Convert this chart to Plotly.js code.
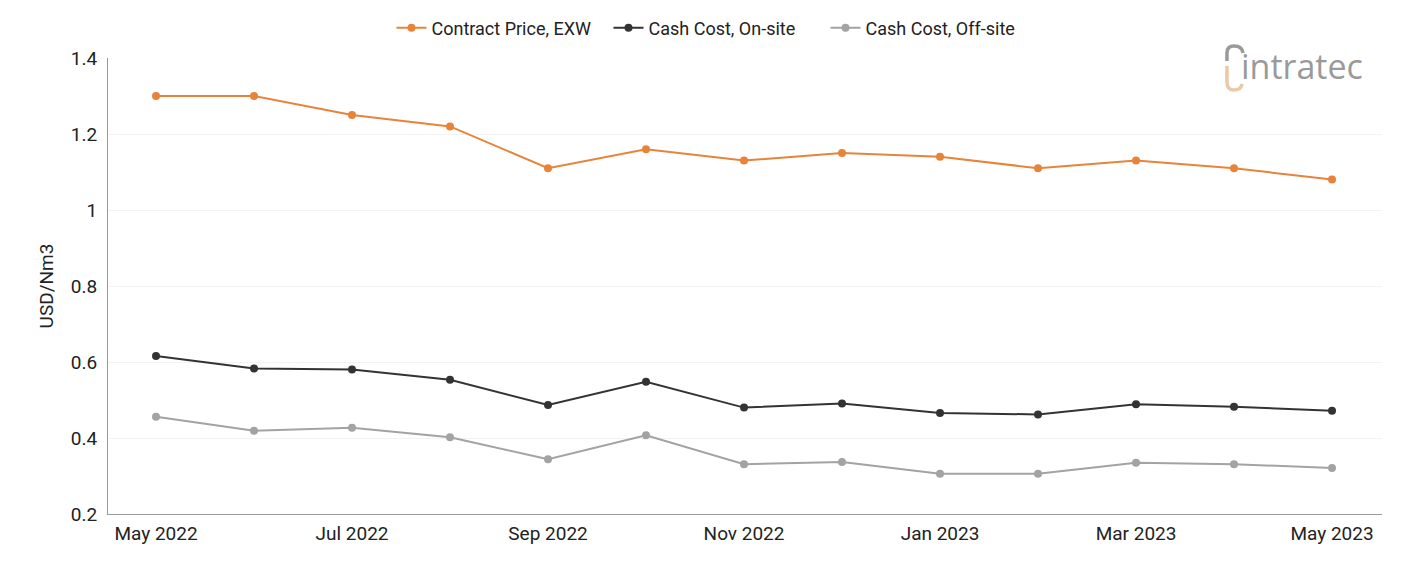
<!DOCTYPE html>
<html>
<head>
<meta charset="utf-8">
<script src="https://cdn.plot.ly/plotly-3.0.1.min.js"></script>
<style>html,body{margin:0;padding:0;background:#fff;}#chart{width:1401px;height:561px;}</style>
</head>
<body>
<div id="chart"></div>
<script>
const months = ['May 2022','Jun 2022','Jul 2022','Aug 2022','Sep 2022','Oct 2022','Nov 2022','Dec 2022','Jan 2023','Feb 2023','Mar 2023','Apr 2023','May 2023'];
const tickLabels = ['May 2022','Jul 2022','Sep 2022','Nov 2022','Jan 2023','Mar 2023','May 2023'];
const contractPrice = [1.30,1.30,1.25,1.22,1.11,1.16,1.13,1.15,1.14,1.11,1.13,1.11,1.08];
const cashOnSite = [0.616,0.583,0.580,0.553,0.487,0.548,0.480,0.491,0.466,0.462,0.489,0.482,0.472];
const cashOffSite = [0.456,0.419,0.427,0.402,0.344,0.407,0.331,0.337,0.306,0.306,0.335,0.331,0.321];
const seriesNames = ['Contract Price, EXW','Cash Cost, On-site','Cash Cost, Off-site'];
const seriesColors = ['#E8833A','#333333','#A3A3A3'];

const font = "Roboto, 'Open Sans', sans-serif";
const data = [contractPrice, cashOnSite, cashOffSite].map((vals, i) => ({
  x: months, y: vals, name: seriesNames[i], type: 'scatter', mode: 'lines+markers',
  line: {color: seriesColors[i], width: 2},
  marker: {color: seriesColors[i], size: 8}
}));

// plot area in pixels, used only to place the logo decoration
const PL = 108, PR = 1382, PT = 58, PB = 514;
const px = v => ((v - PL) / (PR - PL)).toFixed(4);
const py = v => ((PB - v) / (PB - PT)).toFixed(4);
const grayArc = `M ${px(1227)} ${py(61)} L ${px(1227)} ${py(53)} Q ${px(1227)} ${py(46)} ${px(1234)} ${py(46)} Q ${px(1242)} ${py(46)} ${px(1243)} ${py(53)}`;
const orangeArc = `M ${px(1227)} ${py(66)} L ${px(1227)} ${py(82)} Q ${px(1227)} ${py(90)} ${px(1234)} ${py(90)} Q ${px(1241)} ${py(90)} ${px(1242)} ${py(84)}`;

const layout = {
  width: 1401, height: 561,
  margin: {l: 108, r: 19, t: 58, b: 47},
  paper_bgcolor: '#fff', plot_bgcolor: '#fff',
  font: {family: font, size: 19, color: '#222'},
  showlegend: true,
  legend: {orientation: 'h', x: 717/1401, xref: 'container', xanchor: 'center', y: 1 - 28/561, yref: 'container', yanchor: 'middle',
           font: {family: font, size: 18, color: '#222'}, traceorder: 'normal', itemwidth: 30,
           entrywidth: 172, entrywidthmode: 'pixels'},
  xaxis: {type: 'category', range: [-0.49, 12.51], tickmode: 'array', tickvals: tickLabels, ticktext: tickLabels,
          showgrid: false, showline: true, linecolor: '#999', linewidth: 1,
          ticks: '', ticklabelstandoff: 2, zeroline: false, tickfont: {size: 19, color: '#222'}},
  yaxis: {range: [0.2, 1.4], dtick: 0.2, showgrid: true, gridcolor: '#f3f3f3', showline: true,
          linecolor: '#999', linewidth: 1, ticks: '', ticklabelstandoff: 6, zeroline: false,
          title: {text: 'USD/Nm3', font: {size: 19, color: '#222'}, standoff: 12},
          tickfont: {size: 19, color: '#222'}},
  shapes: [
    {type: 'path', xref: 'paper', yref: 'paper', path: grayArc, line: {color: '#9a9a9a', width: 3.5}},
    {type: 'path', xref: 'paper', yref: 'paper', path: orangeArc, line: {color: '#EBC9A8', width: 3.5}}
  ],
  annotations: [
    {text: 'intratec', xref: 'paper', yref: 'paper', x: px(1365), y: py(66), xanchor: 'right', yanchor: 'middle',
     showarrow: false, font: {family: "'Open Sans', sans-serif", size: 34, color: '#9a9a9a', weight: 500}}
  ]
};
Plotly.newPlot('chart', data, layout, {displayModeBar: false});
</script>
</body>
</html>
